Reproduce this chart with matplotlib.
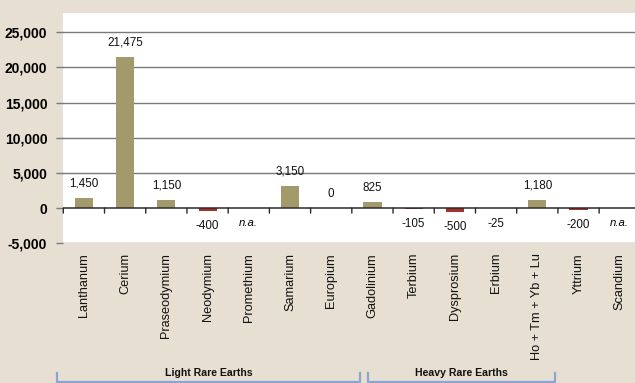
import numpy as np
import matplotlib
matplotlib.use("Agg")
import matplotlib.pyplot as plt
from matplotlib.transforms import blended_transform_factory

plt.rcParams['font.family'] = ['Liberation Sans', 'DejaVu Sans']

# data
elements = ['Lanthanum', 'Cerium', 'Praseodymium', 'Neodymium', 'Promethium',
            'Samarium', 'Europium', 'Gadolinium', 'Terbium', 'Dysprosium',
            'Erbium', 'Ho + Tm + Yb + Lu', 'Yttrium', 'Scandium']
values = [1450, 21475, 1150, -400, np.nan, 3150, 0, 825, -105, -500, -25,
          1180, -200, np.nan]
yticks = [-5000, 0, 5000, 10000, 15000, 20000, 25000]
groups = ['Light Rare Earths', 'Heavy Rare Earths']
group_first = [0, 7]
group_last = [6, 11]

BG = '#e6dfd2'
POS = '#a39a6c'
NEG = '#a3322c'
GRID = '#7a7a7a'
BRACKET = '#8ea4d2'

fig = plt.figure(figsize=(6.35, 3.83), dpi=100, facecolor=BG)
ax = fig.add_axes([0.0997, 0.3648, 0.9003, 0.6005])
ax.set_facecolor('white')

x = np.arange(len(elements))
vals = np.array(values, dtype=float)
colors = [NEG if v < 0 else POS for v in np.nan_to_num(vals)]
ax.bar(x, np.nan_to_num(vals), width=0.44, color=colors, zorder=3)

ax.set_xlim(-0.5, 13.37)
ax.set_ylim(-5000, 27700)

# grid lines
for yv in yticks:
    if yv != 0:
        ax.axhline(yv, color=GRID, lw=1.0, zorder=1)
ax.axhline(0, color='#2a2a2a', lw=1.1, zorder=4)

ax.set_yticks(yticks)
ax.set_yticklabels([f'{v:,}' for v in yticks], fontsize=10, fontweight='bold')
ax.tick_params(axis='y', length=5, color=GRID, width=1.0, pad=6.5)
for s in ax.spines.values():
    s.set_visible(False)

# tick marks at category boundaries on the zero line
ax.set_xticks([])
for b in np.arange(-0.5, len(elements) + 0.5, 1):
    ax.annotate('', xy=(b, 0), xytext=(0, -5), textcoords='offset pixels',
                arrowprops=dict(arrowstyle='-', color='#2a2a2a', lw=1.0,
                                shrinkA=0, shrinkB=0),
                annotation_clip=False, zorder=4)

# category labels
tl = blended_transform_factory(ax.transData, ax.transAxes)
for xi, name in zip(x, elements):
    ax.text(xi, -0.042, name, transform=tl, rotation=90, ha='center', va='top',
            fontsize=9.2, color='#111111')

# value labels
for xi, v in zip(x, vals):
    if np.isnan(v):
        ax.annotate('n.a.', xy=(xi, 0), xytext=(0, -11), textcoords='offset points',
                    ha='center', va='center', fontsize=8.2, style='italic')
    else:
        off = 10.5 if v >= 0 else -11
        ax.annotate(f'{int(v):,}', xy=(xi, v), xytext=(0, off),
                    textcoords='offset points', ha='center', va='center',
                    fontsize=8.4, color='#111111')

# group brackets
gt = blended_transform_factory(ax.transData, fig.transFigure)
pads = [(0.65, 0.7), (0.1, 0.42)]
for name, f, l, (pl, pr) in zip(groups, group_first, group_last, pads):
    x0, x1 = f - pl, l + pr
    ax.plot([x0, x0, x1, x1], [0.026, 0.003, 0.003, 0.026], transform=gt,
            color=BRACKET, lw=1.6, clip_on=False)
    ax.text((x0 + x1) / 2, 0.027, name, transform=gt, ha='center', va='center',
            fontsize=7.6, fontweight='bold', color='#111111')

fig.savefig('out.png', dpi=100, facecolor=BG)
